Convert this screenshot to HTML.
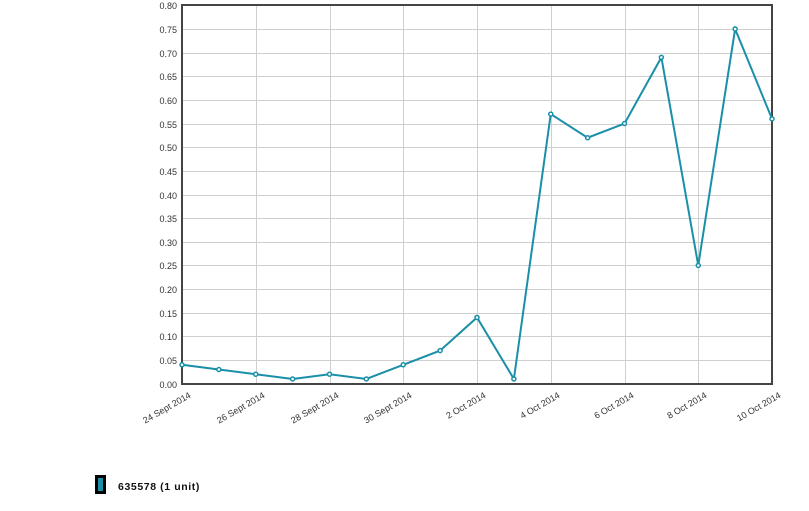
<!DOCTYPE html>
<html><head><style>body{margin:0;background:#fff;width:809px;height:506px;overflow:hidden}</style></head>
<body>
<svg width="809" height="506" xmlns="http://www.w3.org/2000/svg" font-family="Liberation Sans, sans-serif">
<g id="grid" stroke="#cfcfcf" stroke-width="1"></g>
<g id="lbl" font-size="9" fill="#333"></g>
<rect x="182" y="5" width="590" height="379" fill="none" stroke="#444" stroke-width="2"/>
<polyline id="ln" fill="none" stroke="#1a8fa8" stroke-width="2"/>
<g id="pts" fill="#fff" stroke="#1a8fa8" stroke-width="1.5"></g>
<rect x="95" y="475" width="11" height="19" fill="#000"/>
<rect x="98" y="478" width="5" height="13" fill="#1a8fa8"/>
<text x="118" y="490" font-size="10.5" font-weight="bold" fill="#111" letter-spacing="0.6">635578 (1 unit)</text>
<script>
var L=182,R=772,T=5.3,B=383.7,ns="http://www.w3.org/2000/svg";
function y(v){return B-(B-T)*v/0.8}
function x(d){return L+(R-L)*d/16}
var g=document.getElementById('grid'),lb=document.getElementById('lbl');
function el(p,n,a,t){var e=document.createElementNS(ns,n);for(var k in a)e.setAttribute(k,a[k]);if(t)e.textContent=t;p.appendChild(e);return e}
for(var i=0;i<=16;i++){var v=i*0.05,yy=Math.round(y(v))+0.5;el(g,'line',{x1:L,x2:R,y1:yy,y2:yy});el(lb,'text',{x:177,y:yy+3.5,'text-anchor':'end'},v.toFixed(2));}
var labs=['24 Sept 2014','26 Sept 2014','28 Sept 2014','30 Sept 2014','2 Oct 2014','4 Oct 2014','6 Oct 2014','8 Oct 2014','10 Oct 2014'];
for(var i=0;i<9;i++){var xx=Math.round(x(i*2))+0.5;el(g,'line',{x1:xx,x2:xx,y1:T,y2:B});el(lb,'text',{x:xx+9,y:397,'text-anchor':'end',transform:'rotate(-30 '+(xx+9)+' 397)'},labs[i]);}
var d=[0.04,0.03,0.02,0.01,0.02,0.01,0.04,0.07,0.14,0.01,0.57,0.52,0.55,0.69,0.25,0.75,0.56],p=[];
var pt=document.getElementById('pts');
d.forEach(function(v,i){p.push(x(i)+','+y(v));el(pt,'circle',{cx:x(i),cy:y(v),r:2});});
document.getElementById('ln').setAttribute('points',p.join(' '));
</script>
</svg>
</body></html>
